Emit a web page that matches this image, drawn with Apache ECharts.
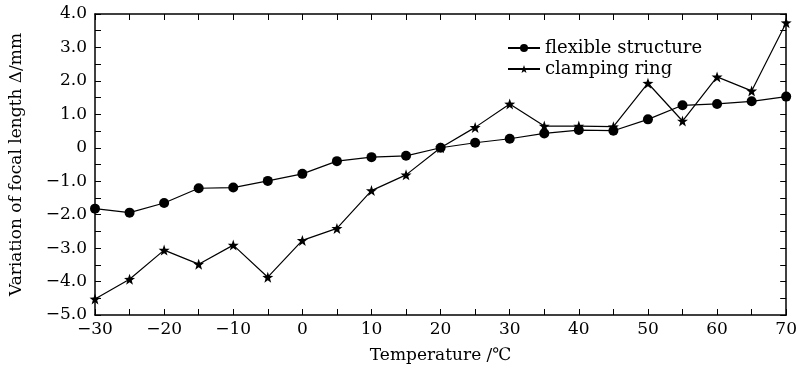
<!DOCTYPE html>
<html>
<head>
<meta charset="utf-8">
<script src="https://cdn.jsdelivr.net/npm/echarts@6/dist/echarts.min.js"></script>
<style>
  html, body { margin: 0; padding: 0; background: #fff; }
  #main { width: 800px; height: 369px; }
</style>
</head>
<body>
<div id="main"></div>
<script>
const temps = [-30, -25, -20, -15, -10, -5, 0, 5, 10, 15, 20, 25, 30, 35, 40, 45, 50, 55, 60, 65, 70];
const flexible = [-1.82, -1.94, -1.65, -1.21, -1.19, -0.99, -0.78, -0.40, -0.28, -0.24, 0, 0.15, 0.27, 0.43, 0.53, 0.51, 0.85, 1.27, 1.31, 1.39, 1.53];
const clamping = [-4.52, -3.93, -3.06, -3.48, -2.91, -3.87, -2.77, -2.41, -1.28, -0.81, 0, 0.61, 1.31, 0.65, 0.65, 0.63, 1.93, 0.80, 2.12, 1.70, 3.74];

const starPath = 'path://M50 0 L61.76 33.82 L97.55 34.55 L69.02 56.18 L79.39 90.45 L50 70 L20.61 90.45 L30.98 56.18 L2.45 34.55 L38.24 33.82 Z';
const font = '"DejaVu Serif", "Liberation Serif", serif';

const minus = s => String(s).replace('-', '\u2212');

// shared axis bits
const axisLine = { onZero: false, lineStyle: { color: '#000', width: 1.5 } };
const tickStyle = { show: true, inside: true, length: 6, lineStyle: { color: '#000', width: 1 } };

const chart = echarts.init(document.getElementById('main'));

const option = {
  animation: false,
  backgroundColor: '#fff',
  textStyle: { fontFamily: font },
  grid: { left: 95, right: 10, top: 14, bottom: 54 },
  legend: {
    left: 502,
    top: 34,
    orient: 'vertical',
    itemWidth: 32,
    itemHeight: 10,
    itemGap: 3,
    textStyle: { fontFamily: font, fontSize: 18, color: '#000' },
    data: ['flexible structure', 'clamping ring']
  },
  xAxis: [
    {
      type: 'value',
      min: -30,
      max: 70,
      interval: 5,
      position: 'bottom',
      name: 'Temperature /\u2103',
      nameLocation: 'middle',
      nameGap: 32,
      nameTextStyle: { fontFamily: font, fontSize: 17, color: '#000' },
      axisLine: axisLine,
      axisTick: tickStyle,
      splitLine: { show: false },
      axisLabel: {
        color: '#000',
        fontSize: 17,
        fontFamily: font,
        margin: 6,
        formatter: v => (v % 10 === 0 ? minus(v) : '')
      }
    },
    {
      type: 'value',
      min: -30,
      max: 70,
      interval: 5,
      position: 'top',
      axisLine: axisLine,
      axisTick: tickStyle,
      axisLabel: { show: false },
      splitLine: { show: false }
    }
  ],
  yAxis: [
    {
      type: 'value',
      min: -5,
      max: 4,
      interval: 0.5,
      position: 'left',
      name: 'Variation of focal length \u0394/mm',
      nameLocation: 'middle',
      nameGap: 70,
      nameTextStyle: { fontFamily: font, fontSize: 17, color: '#000' },
      axisLine: axisLine,
      axisTick: tickStyle,
      splitLine: { show: false },
      axisLabel: {
        color: '#000',
        fontSize: 17,
        fontFamily: font,
        margin: 8,
        formatter: v => {
          if (Math.abs(v % 1) > 1e-6) return '';
          if (v === 0) return '0';
          return minus(v.toFixed(1));
        }
      }
    },
    {
      type: 'value',
      min: -5,
      max: 4,
      interval: 0.5,
      position: 'right',
      axisLine: axisLine,
      axisTick: tickStyle,
      axisLabel: { show: false },
      splitLine: { show: false }
    }
  ],
  series: [
    {
      name: 'flexible structure',
      type: 'line',
      data: temps.map((t, i) => [t, flexible[i]]),
      symbol: 'circle',
      symbolSize: 10,
      lineStyle: { color: '#000', width: 1.2 },
      itemStyle: { color: '#000' }
    },
    {
      name: 'clamping ring',
      type: 'line',
      data: temps.map((t, i) => [t, clamping[i]]),
      symbol: starPath,
      symbolSize: 11,
      lineStyle: { color: '#000', width: 1.2 },
      itemStyle: { color: '#000' }
    }
  ]
};

chart.setOption(option);
</script>
</body>
</html>
